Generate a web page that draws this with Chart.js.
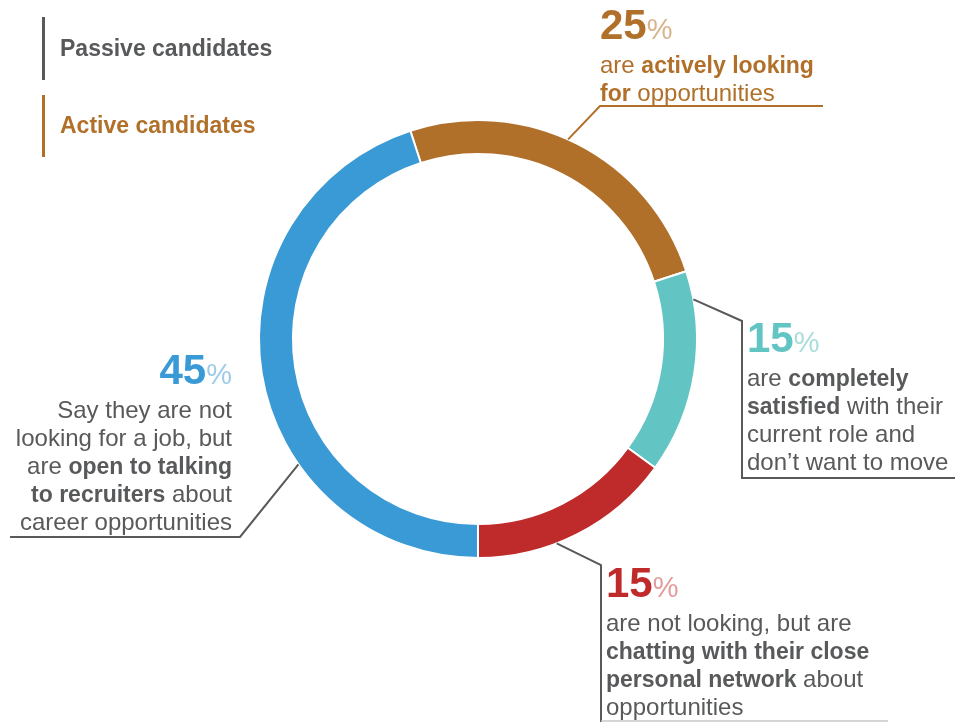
<!DOCTYPE html>
<html lang="en">
<head>
    <meta charset="UTF-8">
    <title>Passive vs Active Candidates</title>
    <style>
        body {
            margin: 0;
            padding: 0;
            background-color: #fff;
            font-family: "Liberation Sans", Arial, sans-serif;
            color: #58595b;
        }
        .stage {
            position: relative;
            width: 955px;
            height: 722px;
            overflow: hidden;
        }
        .chart-box {
            position: absolute;
            left: 0;
            top: 0;
            width: 955px;
            height: 722px;
        }
        .note {
            position: absolute;
            white-space: nowrap;
            font-size: 24px;
            line-height: 28px;
        }
        .note b { font-weight: bold; font-size: 23px; }
        .pct {
            font-size: 42px;
            line-height: 44px;
            font-weight: bold;
        }
        .pct span {
            font-size: 29px;
            font-weight: normal;
        }
        .legend-item {
            position: absolute;
            left: 42px;
            width: 3px;
        }
        .legend-text {
            position: absolute;
            left: 60px;
            font-size: 23px;
            font-weight: bold;
            white-space: nowrap;
        }
    </style>
</head>
<body>
<div class="stage">
    <div class="chart-box"><canvas id="donut"></canvas></div>

    <div class="legend-item" style="top:17px;height:63px;background:#58595b"></div>
    <div class="legend-text" style="top:35px;color:#58595b">Passive candidates</div>
    <div class="legend-item" style="top:95px;height:62px;background:#b0702a"></div>
    <div class="legend-text" style="top:112px;color:#b0702a">Active candidates</div>

    <div class="note" style="left:600px;top:3px;color:#b0702a">
        <div class="pct">25<span style="color:#d8b48c">%</span></div>
        are <b>actively looking</b><br><b>for</b> opportunities
    </div>
    <div class="note" style="left:747px;top:316px">
        <div class="pct" style="color:#62c4c3">15<span style="color:#a8dddc">%</span></div>
        are <b>completely</b><br><b>satisfied</b> with their<br>current role and<br>don’t want to move
    </div>
    <div class="note" style="left:606px;top:561px">
        <div class="pct" style="color:#bf2a2b">15<span style="color:#e29c9c">%</span></div>
        are not looking, but are<br><b>chatting with their close</b><br><b>personal network</b> about<br>opportunities
    </div>
    <div class="note" style="left:0;width:232px;top:348px;text-align:right">
        <div class="pct" style="color:#3a9ad5">45<span style="color:#9dcbea">%</span></div>
        Say they are not<br>looking for a job, but<br>are <b>open to talking</b><br><b>to recruiters</b> about<br>career opportunities
    </div>
</div>

<script src="https://cdn.jsdelivr.net/npm/chart.js"></script>
<script>
    // shares of candidates, clockwise from the top
    const segments = ['Actively looking', 'Completely satisfied', 'Chatting with network', 'Open to recruiters'];
    const shares = [25, 15, 15, 45];
    const segmentColors = ['#b0702a', '#62c4c3', '#bf2a2b', '#3a9ad5'];

    // leader lines: where on the arc they start (0..1), then elbow points in px
    const leaders = [
        { arc: 0, at: 0.47, color: '#b0702a', pts: [[600, 106], [823, 106]] },
        { arc: 1, at: 0.14, color: '#58595b', pts: [[742, 321], [742, 478], [955, 478]] },
        { arc: 2, at: 0.61, color: '#58595b', pts: [[601, 565], [601, 722]] },
        { arc: 3, at: 0.34, color: '#58595b', pts: [[240, 537], [10, 537]] }
    ];

    const leaderPlugin = {
        id: 'leaders',
        afterDraw(chart) {
            const ctx = chart.ctx;
            const arcs = chart.getDatasetMeta(0).data;
            ctx.save();
            ctx.lineWidth = 2;
            leaders.forEach(l => {
                const a = arcs[l.arc];
                const ang = a.startAngle + (a.endAngle - a.startAngle) * l.at;
                const r = a.outerRadius;
                ctx.strokeStyle = l.color;
                ctx.beginPath();
                ctx.moveTo(a.x + Math.cos(ang) * r, a.y + Math.sin(ang) * r);
                l.pts.forEach(p => ctx.lineTo(p[0], p[1]));
                ctx.stroke();
            });
            // faint rule under the red note
            ctx.strokeStyle = '#c8c8c8';
            ctx.lineWidth = 1.5;
            ctx.beginPath();
            ctx.moveTo(601, 721);
            ctx.lineTo(888, 721);
            ctx.stroke();
            ctx.restore();
        }
    };

    new Chart(document.getElementById('donut'), {
        type: 'doughnut',
        data: {
            labels: segments,
            datasets: [{
                data: shares,
                backgroundColor: segmentColors,
                borderColor: '#ffffff',
                borderWidth: 2
            }]
        },
        options: {
            responsive: true,
            maintainAspectRatio: false,
            animation: false,
            rotation: -18,
            cutout: '84.5%',
            layout: {
                padding: { left: 258, right: 257, top: 119, bottom: 163 }
            },
            plugins: {
                legend: { display: false },
                tooltip: { enabled: false }
            }
        },
        plugins: [leaderPlugin]
    });
</script>
</body>
</html>
